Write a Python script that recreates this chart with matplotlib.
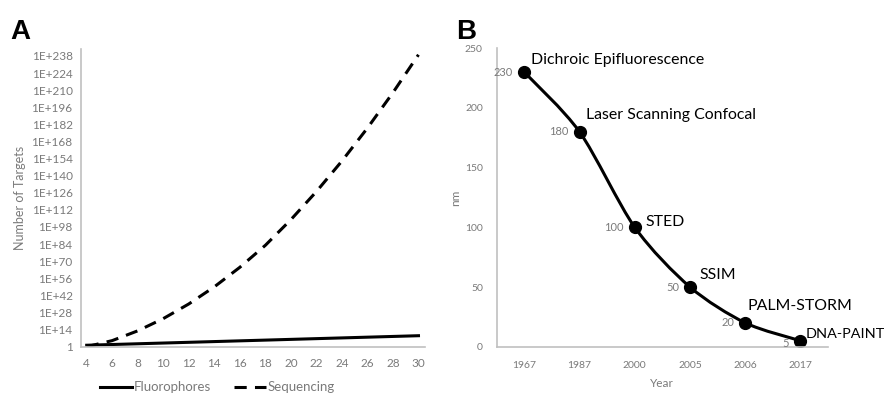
import numpy as np
import matplotlib
matplotlib.use("Agg")
from matplotlib import pyplot as plt
from matplotlib.path import Path
from matplotlib.patches import PathPatch

plt.rcParams['font.family'] = ['Lato', 'DejaVu Sans']

# panel A: number of targets (log10 of count) vs number of colours/rounds
n_vals = [4, 6, 8, 10, 12, 14, 16, 18, 20, 22, 24, 26, 28, 30]
fluor_exp = [1.2, 1.8, 2.4, 3.0, 3.6, 4.2, 4.8, 5.4, 6.0, 6.6, 7.2, 7.8, 8.4, 9.0]
seq_exp = [0, 5, 13, 23, 35, 49, 65, 83, 104, 127, 152, 179, 208, 239]
ytick_exp = list(range(0, 239, 14))

# panel B: resolution by technique
years = ["1967", "1987", "2000", "2005", "2006", "2017"]
res_nm = [230, 180, 100, 50, 20, 5]
methods = ["Dichroic Epifluorescence", "Laser Scanning Confocal", "STED",
           "SSIM", "PALM-STORM", "DNA-PAINT"]
# label offsets in points (hand placed in the original)
name_off = [(4.5, 9), (5, 12), (8, 4), (6.5, 9), (1.5, 12), (3.5, 5)]

gray_txt = "#7a7a7a"
gray_ax = "#c0c0c0"

fig = plt.figure(figsize=(8.84, 3.93), dpi=100)

# ---- A ----
axA = fig.add_axes([0.0916, 0.1178, 0.389, 0.7575])
axA.set_yscale("log")
axA.plot(n_vals, 10.0 ** np.array(fluor_exp), color="black", lw=2.2, label="Fluorophores")
axA.plot(n_vals, 10.0 ** np.array(seq_exp), color="black", lw=2.2, ls=(0, (4, 2.7)),
         label="Sequencing")
axA.set_xlim(3.55, 30.5)
axA.set_ylim(1, 10.0 ** 243.7)
axA.set_xticks(range(4, 31, 2))
axA.set_yticks([10.0 ** e for e in ytick_exp])
axA.set_yticklabels(["1" if e == 0 else "1E+%d" % e for e in ytick_exp])
axA.minorticks_off()
axA.set_ylabel("Number of Targets", color=gray_txt, fontsize=9, labelpad=4)
h, l = axA.get_legend_handles_labels()
fig.legend(h, l, loc="center", bbox_to_anchor=(0.246, 0.014), ncol=2, frameon=False,
           fontsize=9.5, labelcolor=gray_txt, handlelength=2.4, handletextpad=0.1,
           columnspacing=1.8, borderpad=0)

# ---- B ----
axB = fig.add_axes([0.5619, 0.1178, 0.3748, 0.7593])
xi = np.arange(len(years))
y = np.array(res_nm, dtype=float)
# smoothed line (bezier through the points, like the spreadsheet "smoothed line")
t = 1.0 / 7.0
verts = [(xi[0], y[0])]
codes = [Path.MOVETO]
for i in range(len(xi) - 1):
    p0 = np.array([xi[max(i - 1, 0)], y[max(i - 1, 0)]])
    p1 = np.array([xi[i], y[i]])
    p2 = np.array([xi[i + 1], y[i + 1]])
    p3 = np.array([xi[min(i + 2, len(xi) - 1)], y[min(i + 2, len(xi) - 1)]])
    c1 = p1 + (p2 - p0) * t
    c2 = p2 - (p3 - p1) * t
    verts += [tuple(c1), tuple(c2), tuple(p2)]
    codes += [Path.CURVE4] * 3
axB.add_patch(PathPatch(Path(verts, codes), fill=False, color="black", lw=2.2))
axB.plot(xi, y, "o", color="black", ms=8.5)
for i in range(len(xi)):
    last = i == len(xi) - 1
    axB.annotate(str(res_nm[i]), (xi[i], y[i]), xytext=(-8, -2 if last else 0),
                 textcoords="offset points", ha="right", va="center", fontsize=8,
                 color=gray_txt)
    axB.annotate(methods[i], (xi[i], y[i]), xytext=name_off[i], textcoords="offset points",
                 ha="left", va="center", fontsize=10.4 if last else 11.4, color="black")
axB.set_xlim(-0.5, 5.5)
axB.set_ylim(0, 250)
axB.set_xticks(xi)
axB.set_xticklabels(years)
axB.set_yticks(range(0, 251, 50))
axB.set_ylabel("nm", color=gray_txt, fontsize=8.5, labelpad=3)
axB.set_xlabel("Year", color=gray_txt, fontsize=8.5, labelpad=6)

for ax in (axA, axB):
    for s in ("top", "right"):
        ax.spines[s].set_visible(False)
    for s in ("left", "bottom"):
        ax.spines[s].set_color(gray_ax)
        ax.spines[s].set_linewidth(1.2)
    ax.tick_params(length=0, colors=gray_txt, labelsize=8.5, pad=8)
axB.tick_params(labelsize=7.5, pad=10)
axA.tick_params(axis="y", pad=6)

fig.text(0.012, 0.90, "A", fontsize=20, fontweight="bold", family="Liberation Sans")
fig.text(0.516, 0.90, "B", fontsize=20, fontweight="bold", family="Liberation Sans")

fig.savefig("out.png", dpi=100)
